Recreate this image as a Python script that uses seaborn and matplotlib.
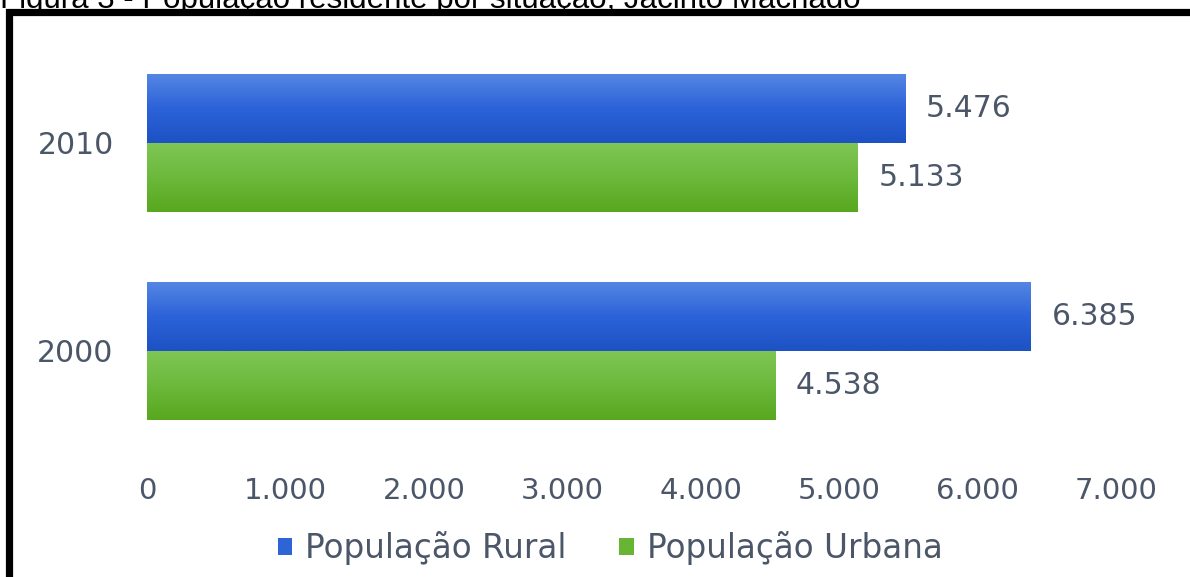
import numpy as np
import pandas as pd
import seaborn as sns
import matplotlib.pyplot as plt
from matplotlib.patches import Patch, Rectangle
from matplotlib.colors import LinearSegmentedColormap

# Dados (milhares de habitantes)
anos = ["2010", "2000"]
rural = [5476, 6385]
urbana = [5133, 4538]
series = ["População Rural", "População Urbana"]
xticks = [0, 1000, 2000, 3000, 4000, 5000, 6000, 7000]

df = pd.DataFrame({
    "ano": anos * 2,
    "valor": rural + urbana,
    "serie": [series[0]] * 2 + [series[1]] * 2,
})

sns.set_style("white")
plt.rcParams['font.family'] = ['DejaVu Sans']
txt = "#4b5669"
cores = {series[0]: "#2f64d6", series[1]: "#68b535"}
grads = {series[0]: ["#5687e4", "#2c63d9", "#1d52c4"],
         series[1]: ["#80c656", "#6cb93c", "#58a81f"]}

fig = plt.figure(figsize=(11.9, 5.77), dpi=100)
ax = fig.add_axes([147 / 1190, 1 - 460 / 577, 969 / 1190, 430 / 577])

sns.barplot(data=df, y="ano", x="valor", hue="serie", order=anos,
            hue_order=series, palette=cores, orient="h", width=0.665,
            gap=0, linewidth=0, legend=False, ax=ax)

ax.set_xlim(0, 7000)
ax.set_ylim(1.524, -0.543)

# gradiente vertical em cada barra
for cont, s in zip(ax.containers, series):
    cmap = LinearSegmentedColormap.from_list(s, grads[s])
    grad = np.linspace(0, 1, 64).reshape(-1, 1)
    for p in cont.patches:
        x0, y0 = p.get_x(), p.get_y()
        w, h = p.get_width(), p.get_height()
        im = ax.imshow(grad, cmap=cmap, aspect="auto",
                       extent=(x0, x0 + w, y0 + h, y0), zorder=p.get_zorder() + 0.1,
                       origin="upper")
        im.set_clip_path(p)
    for p, v in zip(cont.patches, cont.datavalues):
        ax.text(p.get_width() + 150, p.get_y() + p.get_height() / 2,
                f"{v:,.0f}".replace(",", "."), va="center", ha="left",
                fontsize=21.5, color=txt)

ax.set_xlim(0, 7000)
ax.set_ylim(1.524, -0.543)
ax.set_xticks(xticks)
ax.set_xticklabels([f"{t:,}".replace(",", ".") for t in xticks])
ax.tick_params(axis="x", length=0, pad=12, labelsize=21, labelcolor=txt)
ax.tick_params(axis="y", length=0, pad=24, labelsize=21.5, labelcolor=txt)
ax.set_xlabel("")
ax.set_ylabel("")
sns.despine(ax=ax, left=True, bottom=True)

handles = [Patch(facecolor=cores[s], edgecolor="none") for s in series]
fig.legend(handles, series, loc="center", bbox_to_anchor=(610 / 1190, 1 - 548 / 577),
           ncol=2, frameon=False, fontsize=23.5, labelcolor=txt,
           handlelength=0.45, handleheight=0.45, handletextpad=0.4, columnspacing=1.6)

# moldura e legenda da figura (cortadas no original)
fig.patches.append(Rectangle((8.5 / 1190, -0.2), 1.2, 1 - 11.5 / 577 + 0.2,
                             transform=fig.transFigure, fill=False,
                             edgecolor="black", linewidth=5.2))
fig.text(0.0, 1.0, "Figura 3 - População residente por situação, Jacinto Machado",
         ha="left", va="center", fontsize=22.5, color="black",
         family=["Liberation Sans Narrow", "Liberation Sans"])

fig.savefig("out.png", dpi=100)
